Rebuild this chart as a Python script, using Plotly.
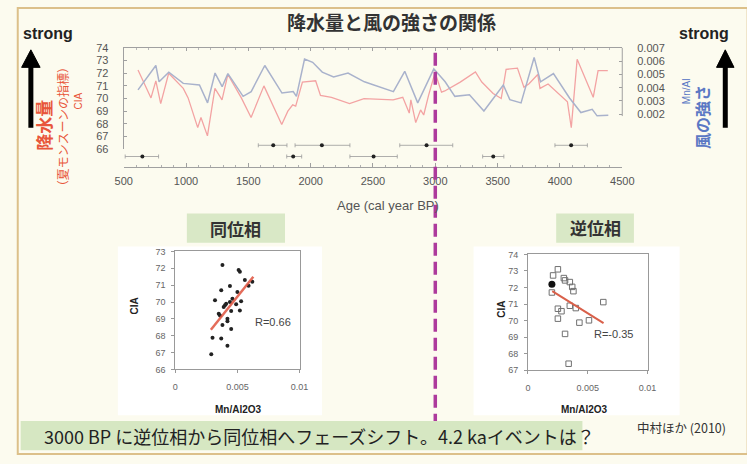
import plotly.graph_objects as go

W, H = 747, 464
JP = "Noto Sans CJK JP"
LAT = "Liberation Sans, Arial, sans-serif"

# ---------------- data ----------------
cia_age = [615, 719, 758, 797, 861, 978, 1017, 1094, 1120, 1172, 1232, 1289, 1336, 1444, 1522,
           1625, 1768, 1817, 1856, 1880, 1934, 2040, 2079, 2167, 2312, 2428, 2662, 2739, 2791, 2804,
           2843, 2882, 2907, 2946, 2998, 3050, 3076, 3200, 3322, 3373, 3464, 3529, 3568, 3659, 3711,
           3750, 3822, 3840, 3905, 4060, 4091, 4138, 4267, 4306, 4384]
cia = [72.25, 70.05, 71.4, 69.6, 72.0, 70.8, 70.05, 67.7, 68.5, 67.05, 70.8, 69.9, 71.9, 70.05, 68.5,
       71.0, 67.95, 69.0, 69.5, 69.4, 71.3, 71.4, 70.25, 70.1, 69.6, 70.0, 69.9, 70.1, 68.85, 69.9,
       68.1, 69.1, 68.7, 70.25, 72.05, 70.5, 70.6, 71.3, 72.1, 71.3, 70.4, 70.0, 72.3, 72.4, 70.9,
       71.15, 71.9, 70.8, 71.15, 69.75, 67.7, 73.1, 70.1, 72.2, 72.2]

mn_age = [615, 758, 784, 862, 978, 1108, 1173, 1233, 1290, 1336, 1458, 1523, 1632, 1770, 1860,
          1886, 1951, 2016, 2093, 2184, 2300, 2431, 2664, 2755, 2859, 2988, 3079, 3157, 3274, 3390,
          3546, 3598, 3688, 3793, 3844, 3948, 4077, 4168, 4259, 4298, 4388]
mn_al = [0.00384, 0.00568, 0.00445, 0.00518, 0.00433, 0.00421, 0.00286, 0.00511, 0.00408, 0.00507,
         0.00335, 0.00371, 0.00568, 0.00360, 0.00371, 0.00335, 0.00617, 0.00592, 0.00518, 0.00482,
         0.00511, 0.00445, 0.00371, 0.00524, 0.00286, 0.00543, 0.00445, 0.00335, 0.00347, 0.00224,
         0.00421, 0.00310, 0.00286, 0.00629, 0.00445, 0.00507, 0.00323, 0.00213, 0.00237, 0.00188,
         0.00193]

# radiocarbon dates (two rows): calibrated age and range
date_row = ["upper"] * 4 + ["lower"] * 4
date_age = [1700, 2090, 2930, 4090, 650, 1860, 2505, 3465]
date_lo = [1580, 1875, 2715, 3960, 512, 1808, 2315, 3380]
date_hi = [1810, 2315, 3140, 4220, 780, 1928, 2695, 3550]

x_ticks = [500, 1000, 1500, 2000, 2500, 3000, 3500, 4000, 4500]
cia_ticks = [66, 67, 68, 69, 70, 71, 72, 73, 74]
mn_ticks = [0.002, 0.003, 0.004, 0.005, 0.006, 0.007]
phase_shift_bp = 3000

# in-phase scatter (<3000 BP)
in_x = [0.0038, 0.0051, 0.0052, 0.0044, 0.0037, 0.0056, 0.0062, 0.0059, 0.0032, 0.0044, 0.0040,
        0.0039, 0.0041, 0.0049, 0.0053, 0.0052, 0.0035, 0.0036, 0.0045, 0.0042, 0.0042, 0.0038,
        0.0045, 0.0030, 0.0037, 0.0042, 0.0029, 0.0046, 0.0050]
in_y = [72.2, 71.9, 71.8, 70.95, 70.7, 71.3, 71.2, 70.97, 70.1, 70.0, 69.8, 69.7, 69.9, 69.86,
        70.05, 69.5, 69.3, 69.2, 69.47, 69.0, 68.86, 68.64, 68.4, 67.87, 67.83, 67.4, 66.9, 70.2, 70.6]
in_fit_x = [0.00287, 0.00628]
in_fit_y = [68.35, 71.5]
in_r = "R=0.66"

# anti-phase scatter (>3000 BP)
anti_x = [0.0025, 0.0021, 0.0030, 0.0031, 0.0035, 0.0037, 0.0038, 0.0020, 0.0025, 0.0028, 0.0025,
          0.0035, 0.0040, 0.0043, 0.0051, 0.0063, 0.0031, 0.0034]
anti_y = [73.1, 72.73, 72.57, 72.43, 72.33, 72.04, 71.78, 71.7, 70.72, 70.57, 70.12, 70.9, 70.76,
          69.88, 70.02, 71.12, 69.2, 67.4]
anti_hl_x = [0.0020]
anti_hl_y = [72.2]
anti_fit_x = [0.00203, 0.00632]
anti_fit_y = [71.78, 69.85]
anti_r = "R=-0.35"
sc_xticks = [0, 0.005, 0.01]
sc_xtext = ["0", "0.005", "0.01"]


def px(x):
    return x / W


def py(y):
    return 1 - y / H


fig = go.Figure()

# main chart lines
fig.add_trace(go.Scatter(x=cia_age, y=cia, mode="lines", line=dict(color="#f3a3a3", width=1.3),
                         xaxis="x", yaxis="y", hoverinfo="skip"))
fig.add_trace(go.Scatter(x=mn_age, y=mn_al, mode="lines", line=dict(color="#a9b2cc", width=1.5),
                         xaxis="x", yaxis="y2", hoverinfo="skip"))
fig.add_trace(go.Scatter(x=cia_age[:1], y=cia[:1], mode="markers", marker=dict(opacity=0),
                         xaxis="x2", yaxis="y", hoverinfo="skip"))

# dates with ranges
fig.add_trace(go.Scatter(
    x=date_age, y=date_row, mode="markers",
    marker=dict(color="#222", size=4),
    error_x=dict(type="data", symmetric=False,
                 array=[h - a for h, a in zip(date_hi, date_age)],
                 arrayminus=[a - l for a, l in zip(date_age, date_lo)],
                 color="#9a9a9a", thickness=0.8, width=2),
    xaxis="x", yaxis="y3", hoverinfo="skip"))

# in-phase scatter
fig.add_trace(go.Scatter(x=in_x, y=in_y, mode="markers", marker=dict(color="#222", size=4),
                         xaxis="x3", yaxis="y4", hoverinfo="skip"))
fig.add_trace(go.Scatter(x=in_fit_x, y=in_fit_y, mode="lines", line=dict(color="#e0533e", width=2.5),
                         opacity=0.85, xaxis="x3", yaxis="y4", hoverinfo="skip"))

# anti-phase scatter
fig.add_trace(go.Scatter(x=anti_x, y=anti_y, mode="markers",
                         marker=dict(symbol="square-open", color="#707070", size=5.5, line=dict(width=1)),
                         xaxis="x4", yaxis="y5", hoverinfo="skip"))
fig.add_trace(go.Scatter(x=anti_fit_x, y=anti_fit_y, mode="lines", line=dict(color="#d9604a", width=2),
                         xaxis="x4", yaxis="y5", hoverinfo="skip"))
fig.add_trace(go.Scatter(x=anti_hl_x, y=anti_hl_y, mode="markers", marker=dict(color="#111", size=7),
                         xaxis="x4", yaxis="y5", hoverinfo="skip"))

axis_gray = "#a0a0a0"
tick_font = dict(family=LAT, size=11, color="#555")
sc_font = dict(family=LAT, size=9, color="#666")

main_dom_x = [px(118), px(631)]
main_dom_y = [py(147), py(43)]

fig.update_layout(
    width=W, height=H, margin=dict(l=0, r=0, t=0, b=0),
    paper_bgcolor="#fcfbef", plot_bgcolor="rgba(0,0,0,0)", showlegend=False,
    xaxis=dict(domain=main_dom_x, range=[500, 4500], anchor="free", position=py(165),
               showline=True, linecolor=axis_gray, linewidth=1, ticks="inside", ticklen=4,
               tickcolor=axis_gray, tickvals=x_ticks, tickfont=tick_font, showgrid=False,
               zeroline=False, ticklabelstandoff=4,
               minor=dict(ticks="inside", ticklen=2, dtick=100, tickcolor="#b0b0b0", showgrid=False)),
    xaxis2=dict(overlaying="x", range=[500, 4500], side="top", anchor="y", showline=True,
                linecolor=axis_gray, ticks="inside", ticklen=3, tickcolor=axis_gray,
                tickvals=x_ticks, showticklabels=False, showgrid=False, zeroline=False,
                minor=dict(ticks="inside", ticklen=2, dtick=100, tickcolor="#b8b8b8", showgrid=False)),
    yaxis=dict(domain=main_dom_y, range=[66, 74], anchor="x", showline=True, linecolor=axis_gray,
               ticks="inside", ticklen=3, tickcolor=axis_gray, tickvals=cia_ticks,
               tickfont=tick_font, showgrid=False, zeroline=False, ticklabelstandoff=12),
    yaxis2=dict(overlaying="y", side="right", anchor="x", range=[-0.00064, 0.00701],
                showline=False, ticks="inside", ticklen=3, tickcolor=axis_gray, tickvals=mn_ticks,
                ticktext=[f"{v:.3f}" for v in mn_ticks], tickfont=tick_font, showgrid=False,
                zeroline=False, ticklabelstandoff=14),
    yaxis3=dict(domain=[py(166), py(132)], anchor="x", type="category",
                categoryorder="array", categoryarray=["lower", "upper"],
                range=[-1, 1.957], visible=False),
    xaxis3=dict(domain=[px(171), px(299)], anchor="y4", range=[0, 0.01], tickvals=sc_xticks,
                ticktext=sc_xtext, showline=True, mirror=True, linecolor="#999", ticks="outside",
                ticklen=3, tickcolor="#999", tickfont=sc_font, showgrid=False, zeroline=False,
                ticklabelstandoff=6),
    yaxis4=dict(domain=[py(373), py(252)], anchor="x3", range=[66, 73], dtick=1, showline=True,
                mirror=True, linecolor="#999", ticks="outside", ticklen=3, tickcolor="#999",
                tickfont=sc_font, showgrid=False, zeroline=False, ticklabelstandoff=4),
    xaxis4=dict(domain=[px(534), px(657)], anchor="y5", range=[0, 0.01], tickvals=sc_xticks,
                ticktext=sc_xtext, showline=True, mirror=True, linecolor="#999", ticks="outside",
                ticklen=3, tickcolor="#999", tickfont=sc_font, showgrid=False, zeroline=False,
                ticklabelstandoff=6),
    yaxis5=dict(domain=[py(374), py(255)], anchor="x4", range=[67, 74], dtick=1, showline=True,
                mirror=True, linecolor="#999", ticks="outside", ticklen=3, tickcolor="#999",
                tickfont=sc_font, showgrid=False, zeroline=False, ticklabelstandoff=4),
)

shapes = []
# outer frame
shapes.append(dict(type="rect", xref="paper", yref="paper", x0=px(9), x1=px(760), y0=py(460), y1=py(2),
                   line=dict(color="#dcc08a", width=2), fillcolor="rgba(0,0,0,0)", layer="below"))
# white panels behind scatter plots
for x0, x1 in [(112, 322), (478, 690)]:
    shapes.append(dict(type="rect", xref="paper", yref="paper", x0=px(x0), x1=px(x1), y0=py(420),
                       y1=py(247), line=dict(width=0), fillcolor="#ffffff", layer="below"))
# right frame line of main chart
shapes.append(dict(type="line", xref="paper", yref="paper", x0=px(631), x1=px(631), y0=py(113),
                   y1=py(43), line=dict(color=axis_gray, width=1)))
# phase shift dashed line
shapes.append(dict(type="line", xref="x", yref="paper", x0=phase_shift_bp, x1=phase_shift_bp,
                   y0=py(432), y1=py(43), line=dict(color="#ad3a9c", width=3.5, dash="13px,6px"),
                   layer="above"))
# label boxes
for x0, x1 in [(183, 284), (563, 643)]:
    shapes.append(dict(type="rect", xref="paper", yref="paper", x0=px(x0), x1=px(x1), y0=py(243),
                       y1=py(213), line=dict(width=0), fillcolor="#d9e8c6", layer="above"))
# bottom message box
shapes.append(dict(type="rect", xref="paper", yref="paper", x0=px(12), x1=px(590), y0=py(456),
                   y1=py(426), line=dict(width=0), fillcolor="#d6e7c2", layer="above"))
# arrows
for cx, x0, x1 in [(22.5, 13, 32), (737, 728, 746)]:
    shapes.append(dict(type="line", xref="paper", yref="paper", x0=px(cx), x1=px(cx), y0=py(125),
                       y1=py(58), line=dict(color="#000", width=5)))
    shapes.append(dict(type="path", xref="paper", yref="paper",
                       path=f"M {px(x0)},{py(63)} L {px(cx)},{py(45)} L {px(x1)},{py(63)} Z",
                       fillcolor="#000", line=dict(color="#000", width=1)))
fig.update_layout(shapes=shapes)


def ann(text, x, y, size, color="#333", family=JP, angle=0, xanchor="center", yanchor="middle"):
    return dict(text=text, x=px(x), y=py(y), xref="paper", yref="paper", showarrow=False,
                font=dict(family=family, size=size, color=color), textangle=angle,
                xanchor=xanchor, yanchor=yanchor)


red = "#e8563a"
blue = "#5b78c4"
annotations = [
    ann("<b>降水量と風の強さの関係</b>", 394, 16, 19, "#333"),
    ann("<b>strong</b>", 40, 28, 16, "#222", LAT),
    ann("<b>strong</b>", 715, 28, 16, "#222", LAT),
    ann("<b>降水量</b>", 36, 122, 17, red, JP, -90),
    ann("（夏モンスーンの指標）", 55, 124, 12, red, JP, -90),
    ann("CIA", 72, 97, 10, red, LAT, -90),
    ann("Mn/Al", 697, 87, 10, blue, LAT, -90),
    ann("<b>風の強さ</b>", 713, 114, 16, blue, JP, -90),
    ann("Age (cal year BP)", 390, 205, 13, "#555", LAT),
    ann("<b>同位相</b>", 233.5, 228, 17, "#333"),
    ann("<b>逆位相</b>", 603, 227, 17, "#333"),
    ann(in_r, 272, 324, 11, "#444", LAT),
    ann(anti_r, 622, 337, 11, "#444", LAT),
    ann("<b>CIA</b>", 129, 308, 10, "#222", LAT, -90),
    ann("<b>CIA</b>", 507, 311, 10, "#222", LAT, -90),
    ann("<b>Mn/Al2O3</b>", 236, 414, 10, "#222", LAT),
    ann("<b>Mn/Al2O3</b>", 592, 414, 10, "#222", LAT),
    ann("3000 BP に逆位相から同位相へフェーズシフト。4.2 kaイベントは？", 34, 441, 18, "#222", JP,
        0, "left"),
    ann("中村ほか (2010)", 692, 433, 12.5, "#333", JP),
]
fig.update_layout(annotations=annotations)

fig.write_html("out.html", config={"displayModeBar": False},
               post_script="document.body.style.margin='0';")
